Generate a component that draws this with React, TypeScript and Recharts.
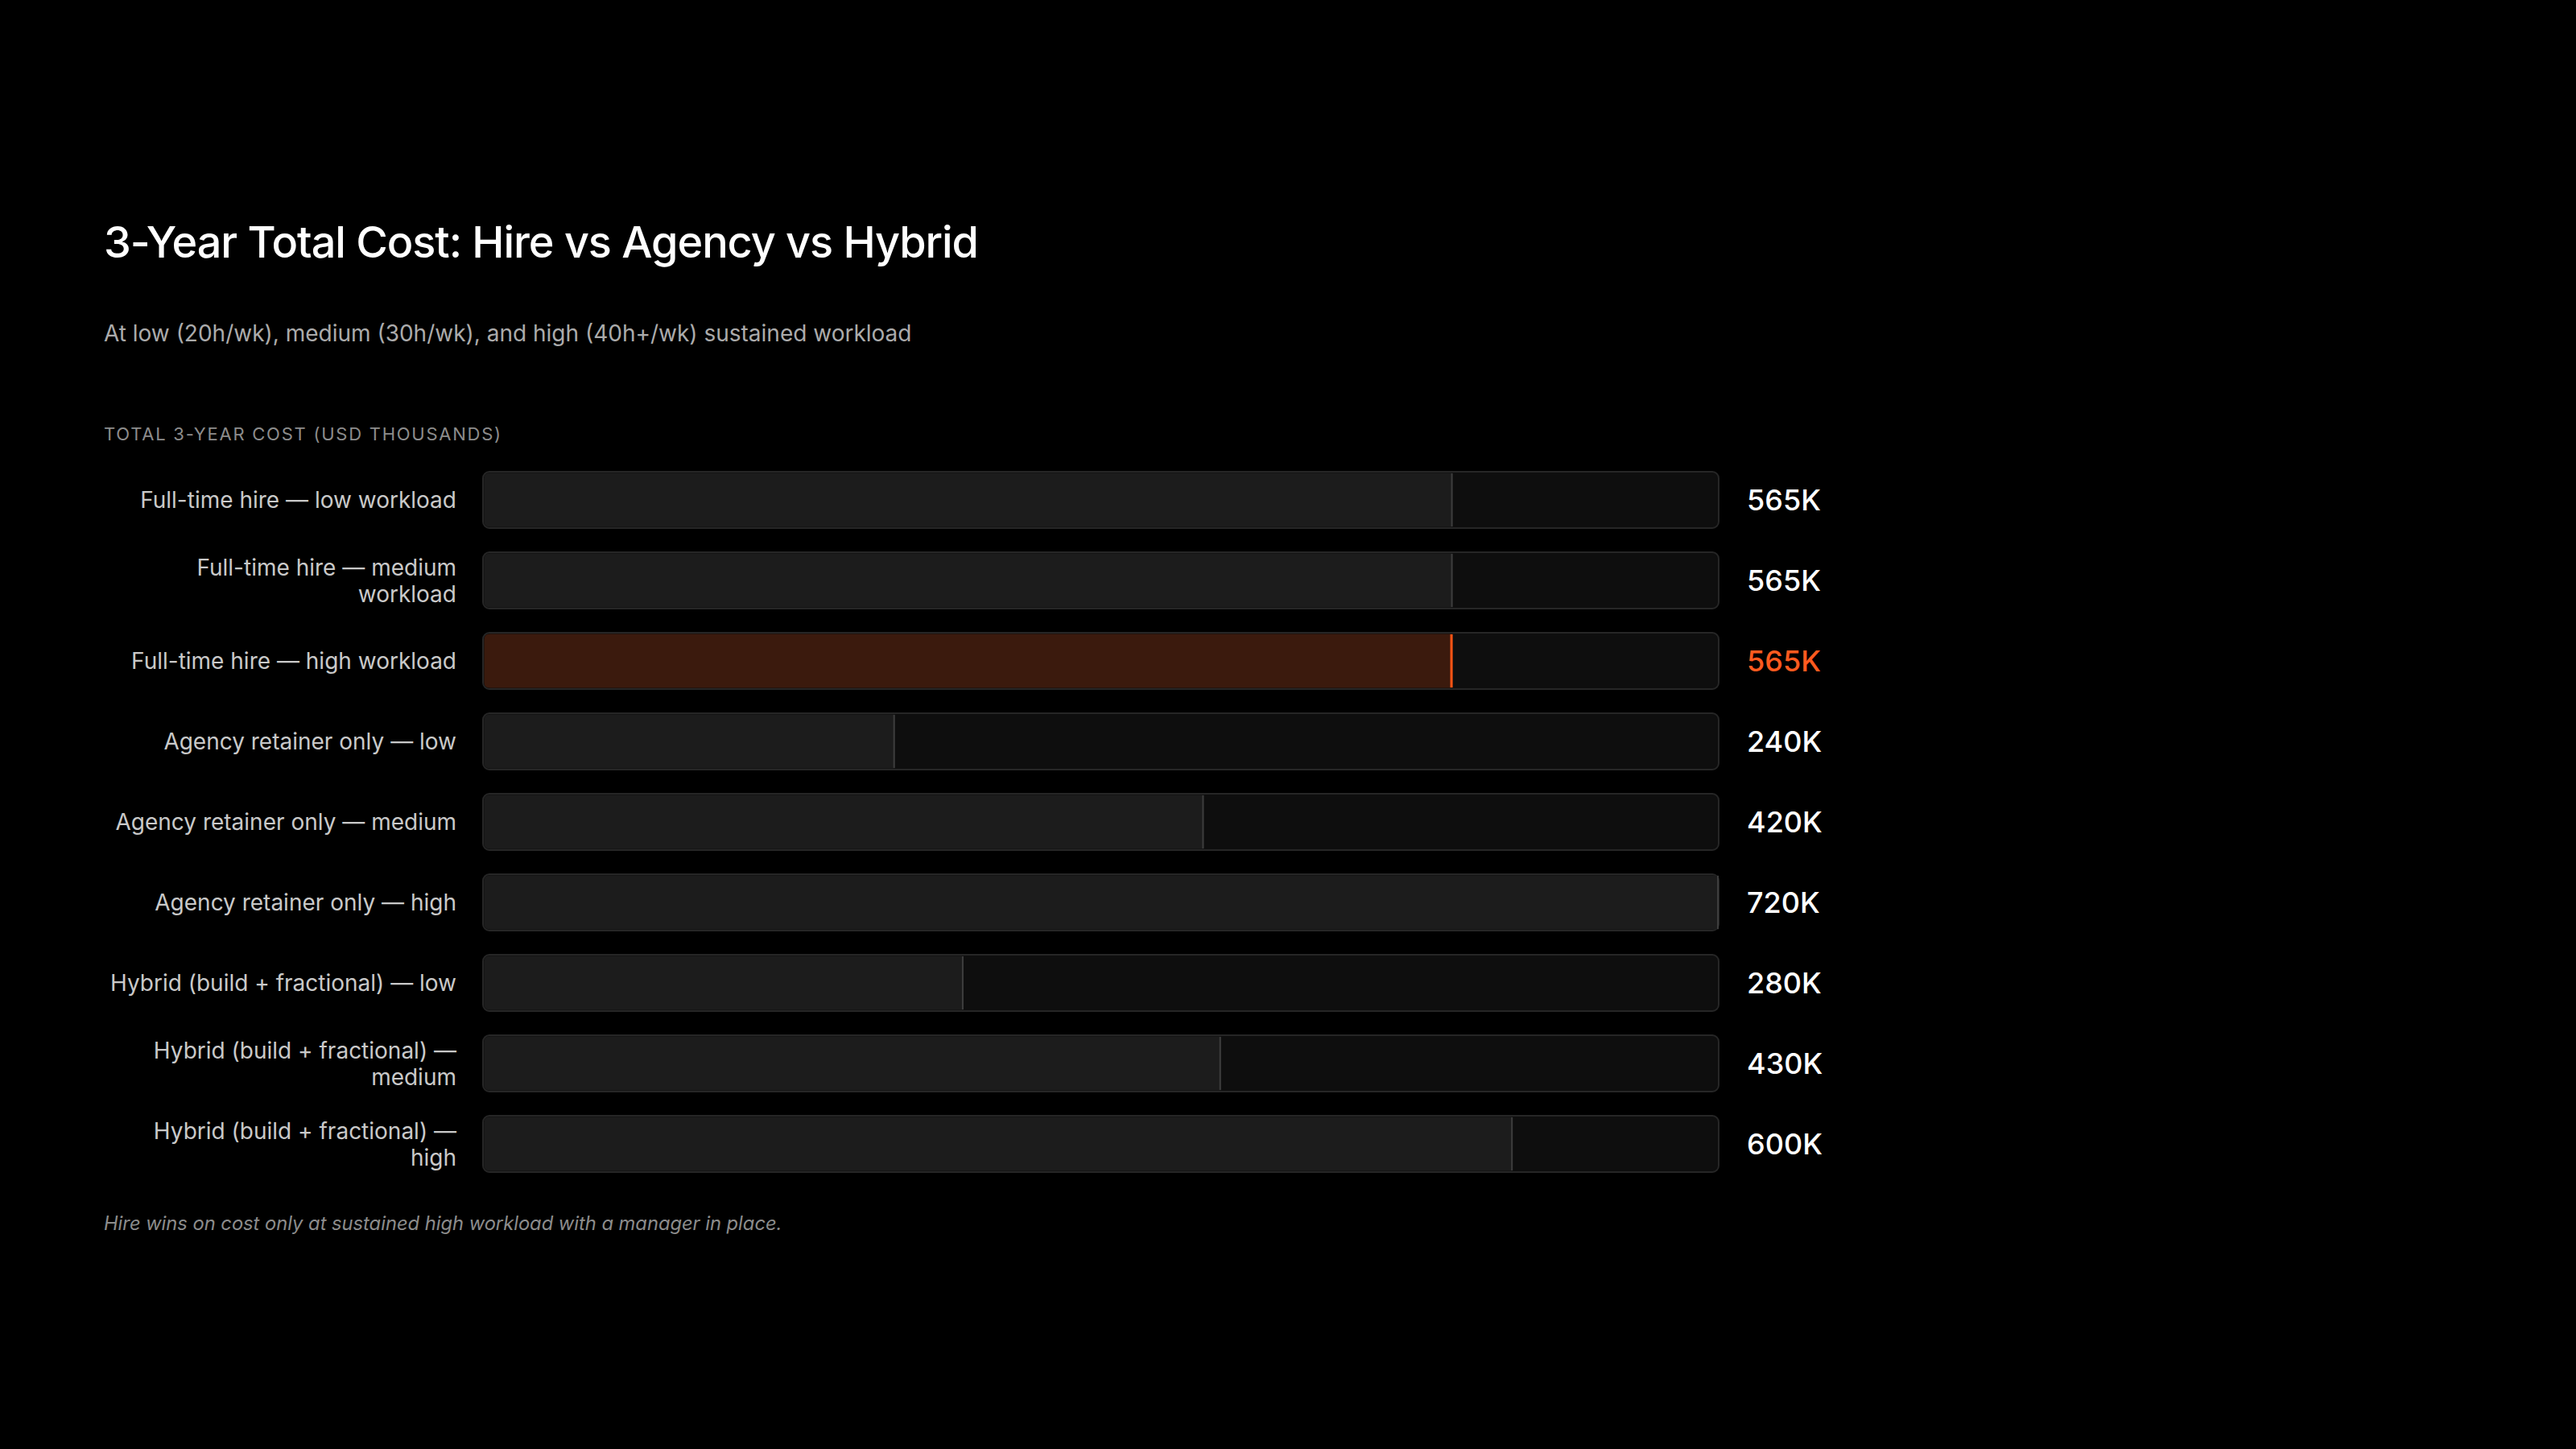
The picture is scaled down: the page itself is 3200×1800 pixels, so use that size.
import { BarChart, Bar, XAxis, YAxis } from "recharts";

const categories = [
  "Full-time hire — low workload",
  "Full-time hire — medium workload",
  "Full-time hire — high workload",
  "Agency retainer only — low",
  "Agency retainer only — medium",
  "Agency retainer only — high",
  "Hybrid (build + fractional) — low",
  "Hybrid (build + fractional) — medium",
  "Hybrid (build + fractional) — high",
];

// total 3-year cost, USD thousands
const costs = [565, 565, 565, 240, 420, 720, 280, 430, 600];
const highlightIndex = 2;
const maxCost = 720;

const data = categories.map((name, i) => ({ name, cost: costs[i] }));

const FONT = "Inter, 'Noto Sans', sans-serif";
const LABEL_FONT_SIZE = 28;
const LABEL_MAX_WIDTH = 436;

let ctx: CanvasRenderingContext2D | null = null;
function wrapLabel(text: string): string[] {
  if (!ctx) ctx = document.createElement("canvas").getContext("2d");
  if (!ctx) return [text];
  ctx.font = `400 ${LABEL_FONT_SIZE}px Inter`;
  const words = text.split(" ");
  const lines: string[] = [];
  let line = "";
  for (const w of words) {
    const test = line ? line + " " + w : w;
    if (line && ctx.measureText(test).width > LABEL_MAX_WIDTH) {
      lines.push(line);
      line = w;
    } else {
      line = test;
    }
  }
  if (line) lines.push(line);
  return lines;
}

function CategoryTick(props: any) {
  const { x, y, payload } = props;
  const lines = wrapLabel(payload.value);
  const lh = 33;
  const start = -((lines.length - 1) * lh) / 2;
  return (
    <text
      x={x}
      y={y}
      textAnchor="end"
      fill="#c9c9c9"
      fontFamily={FONT}
      fontSize={LABEL_FONT_SIZE}
    >
      {lines.map((l, i) => (
        <tspan key={i} x={x} y={y + start + i * lh} dominantBaseline="central">
          {l}
        </tspan>
      ))}
    </text>
  );
}

function CostBar(props: any) {
  const { x, y, width, height, index, value, background } = props;
  const hot = index === highlightIndex;
  const v = Array.isArray(value) ? value[1] : value;
  const endX = background ? background.x + background.width : x + width;
  const inset = 1.5;
  const r = 7;
  const fx = x + inset;
  const fy = y + inset;
  const fw = Math.max(width - inset, 0);
  const fh = height - inset * 2;
  const path = `M${fx + r},${fy} L${fx + fw},${fy} L${fx + fw},${fy + fh} L${fx + r},${fy + fh} Q${fx},${fy + fh} ${fx},${fy + fh - r} L${fx},${fy + r} Q${fx},${fy} ${fx + r},${fy} Z`;
  return (
    <g>
      <path d={path} fill={hot ? "#3b1a0d" : "#1c1c1c"} />
      <rect
        x={x + width - (hot ? 3 : 2)}
        y={y + 2}
        width={hot ? 3 : 2}
        height={height - 4}
        fill={hot ? "#ff5414" : "#3d3d3d"}
      />
      <text
        x={endX + 35}
        y={y + height / 2}
        dominantBaseline="central"
        fill={hot ? "#ff5a1f" : "#ffffff"}
        fontFamily={FONT}
        fontSize={36}
        fontWeight={500}
      >
        {v}K
      </text>
    </g>
  );
}

export default function App() {
  return (
    <div
      style={{
        position: "absolute",
        left: 0,
        top: 0,
        width: 3200,
        height: 1800,
        background: "#000",
        fontFamily: FONT,
        overflow: "hidden",
      }}
    >
      <div
        style={{
          position: "absolute",
          left: 129,
          top: 274,
          fontSize: 54,
          lineHeight: 1,
          fontWeight: 500,
          color: "#fff",
          letterSpacing: -1.05,
          whiteSpace: "nowrap",
        }}
      >
        3-Year Total Cost: Hire vs Agency vs Hybrid
      </div>
      <div
        style={{
          position: "absolute",
          left: 129,
          top: 400,
          fontSize: 28,
          lineHeight: 1,
          color: "#ababab",
          whiteSpace: "nowrap",
        }}
      >
        At low (20h/wk), medium (30h/wk), and high (40h+/wk) sustained workload
      </div>
      <div
        style={{
          position: "absolute",
          left: 129,
          top: 528,
          fontSize: 22,
          lineHeight: 1,
          color: "#8c8c8c",
          letterSpacing: 1.75,
          whiteSpace: "nowrap",
        }}
      >
        TOTAL 3-YEAR COST (USD THOUSANDS)
      </div>

      <div style={{ position: "absolute", left: 0, top: 571 }}>
        <BarChart
          width={2335}
          height={900}
          data={data}
          layout="vertical"
          margin={{ top: 0, right: 200, bottom: 0, left: 0 }}
        >
          <XAxis type="number" domain={[0, maxCost]} hide />
          <YAxis
            type="category"
            dataKey="name"
            width={600}
            axisLine={false}
            tickLine={false}
            tickSize={0}
            tickMargin={33}
            interval={0}
            tick={<CategoryTick />}
          />
          <Bar
            dataKey="cost"
            barSize={70}
            isAnimationActive={false}
            background={{ fill: "#0e0e0e", stroke: "#262626", strokeWidth: 2, radius: 8 }}
            shape={<CostBar />}
          />
        </BarChart>
      </div>

      <div
        style={{
          position: "absolute",
          left: 129,
          top: 1508,
          fontSize: 23.7,
          lineHeight: 1,
          fontStyle: "italic",
          color: "#8c8c8c",
          whiteSpace: "nowrap",
        }}
      >
        Hire wins on cost only at sustained high workload with a manager in place.
      </div>
    </div>
  );
}
